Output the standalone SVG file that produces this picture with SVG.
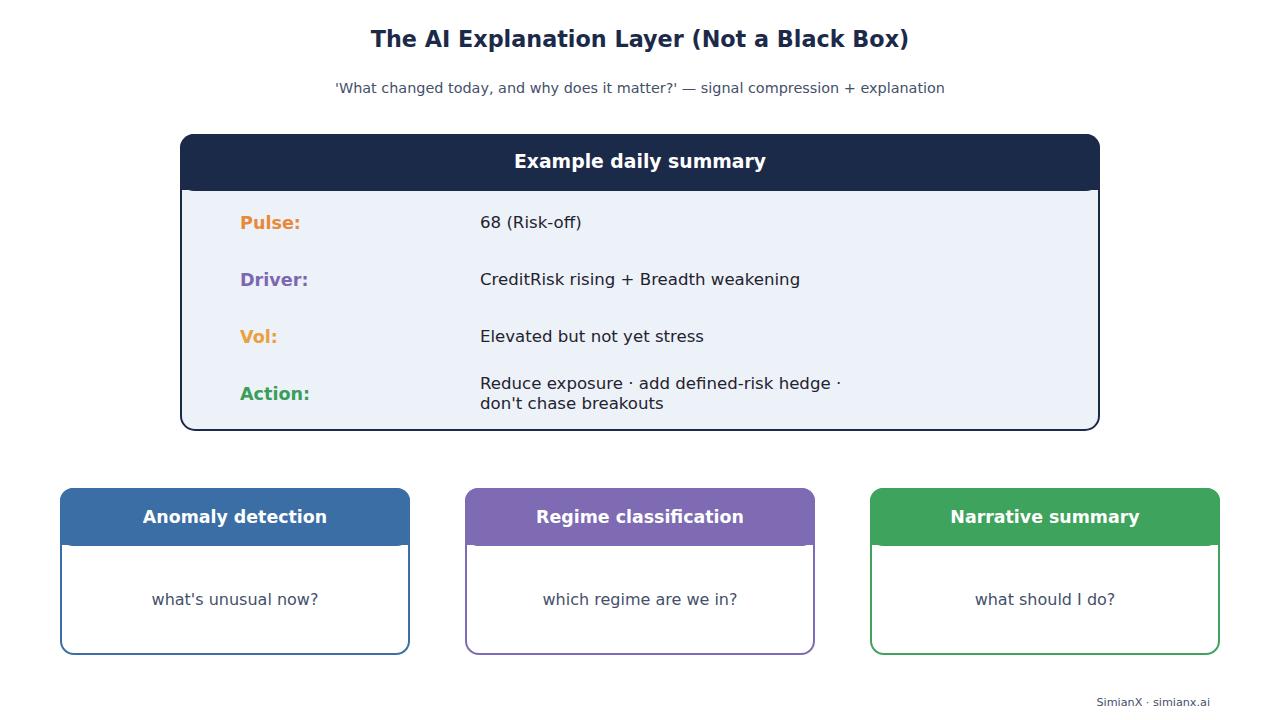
<svg xmlns="http://www.w3.org/2000/svg" width="1280" height="720" viewBox="0 0 1280 720">
<style>
text{font-family:"DejaVu Sans","Liberation Sans",sans-serif}
.title{font-size:22.3px;font-weight:bold;fill:#1c2a4a}
.sub{font-size:14.4px;fill:#44506a}
.lbl{font-size:17.6px;font-weight:bold}
.val{font-size:16.6px;fill:#1f2330}
.hd{font-size:17.4px;font-weight:bold;fill:#ffffff}
.body{font-size:16px;fill:#44506a}
.foot{font-size:11.2px;fill:#44506a}
</style>
<rect width="1280" height="720" fill="#ffffff"/>
<text class="title" x="640" y="47" text-anchor="middle">The AI Explanation Layer (Not a Black Box)</text>
<text class="sub" x="640" y="93" text-anchor="middle">'What changed today, and why does it matter?' — signal compression + explanation</text>

<g id="summary">
<rect x="181" y="135" width="918" height="295" rx="14" fill="#edf1f8" stroke="#1c2a4a" stroke-width="2"/>
<rect x="180" y="134" width="920" height="57" rx="14" fill="#1c2a4a"/>
<rect x="180" y="160" width="920" height="30" fill="#1c2a4a"/>
<text class="hd" x="640" y="168" text-anchor="middle" style="font-size:18.8px">Example daily summary</text>
<text class="lbl" x="240" y="229" fill="#e8893a">Pulse:</text>
<text class="val" x="480" y="228">68 (Risk-off)</text>
<text class="lbl" x="240" y="286" fill="#7b68b0">Driver:</text>
<text class="val" x="480" y="285">CreditRisk rising + Breadth weakening</text>
<text class="lbl" x="240" y="343" fill="#e8a040">Vol:</text>
<text class="val" x="480" y="342">Elevated but not yet stress</text>
<text class="lbl" x="240" y="400" fill="#3a9e5a">Action:</text>
<text class="val" x="480" y="389">Reduce exposure · add defined-risk hedge ·</text>
<text class="val" x="480" y="409">don't chase breakouts</text>
</g>

<g id="anomaly">
<rect x="61" y="489" width="348" height="165" rx="13" fill="#ffffff" stroke="#3a6ea5" stroke-width="2"/>
<rect x="60" y="488" width="350" height="58" rx="13" fill="#3a6ea5"/>
<rect x="60" y="515" width="350" height="30" fill="#3a6ea5"/>
<text class="hd" x="235" y="523" text-anchor="middle">Anomaly detection</text>
<text class="body" x="235" y="605" text-anchor="middle">what's unusual now?</text>
</g>

<g id="regime">
<rect x="466" y="489" width="348" height="165" rx="13" fill="#ffffff" stroke="#7e6bb4" stroke-width="2"/>
<rect x="465" y="488" width="350" height="58" rx="13" fill="#7e6bb4"/>
<rect x="465" y="515" width="350" height="30" fill="#7e6bb4"/>
<text class="hd" x="640" y="523" text-anchor="middle">Regime classification</text>
<text class="body" x="640" y="605" text-anchor="middle">which regime are we in?</text>
</g>

<g id="narrative">
<rect x="871" y="489" width="348" height="165" rx="13" fill="#ffffff" stroke="#3ea35c" stroke-width="2"/>
<rect x="870" y="488" width="350" height="58" rx="13" fill="#3ea35c"/>
<rect x="870" y="515" width="350" height="30" fill="#3ea35c"/>
<text class="hd" x="1045" y="523" text-anchor="middle">Narrative summary</text>
<text class="body" x="1045" y="605" text-anchor="middle">what should I do?</text>
</g>

<g id="connectors"></g>

<text class="foot" x="1210" y="706" text-anchor="end">SimianX · simianx.ai</text>
</svg>
